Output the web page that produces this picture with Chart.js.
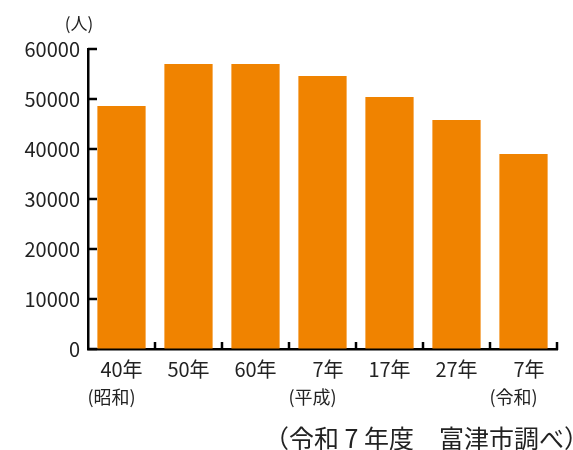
<!DOCTYPE html>
<html>
<head>
<meta charset="utf-8">
<script src="https://cdn.jsdelivr.net/npm/chart.js@4"></script>
<style>
  html, body { margin: 0; padding: 0; background: #fff; }
  #wrap { width: 573px; height: 450px; position: relative; }
</style>
</head>
<body>
<div id="wrap"><canvas id="myBarChart" width="573" height="450"></canvas></div>
<script>
// data
var years = ['40年', '50年', '60年', '\u20077年', '17年', '27年', '\u20077年'];
var eras = ['(昭和)', '', '', '(平成)', '', '', '(令和)'];
var population = [48600, 57000, 57000, 54600, 50400, 45800, 39000];
var yTicks = [0, 10000, 20000, 30000, 40000, 50000, 60000];

var FONT = '"Noto Sans CJK JP", "Noto Sans", sans-serif';

// extra text and the short inward tick marks
var extras = {
    id: 'extras',
    afterDraw: function(chart) {
        var c = chart.ctx;
        var xs = chart.scales.x;
        var ys = chart.scales.y;
        var area = chart.chartArea;
        c.save();
        c.strokeStyle = '#000';
        c.lineWidth = 2.5;
        // y ticks, pointing inward
        yTicks.forEach(function(v) {
            var y = Math.round(ys.getPixelForValue(v));
            c.beginPath();
            c.moveTo(area.left, y);
            c.lineTo(area.left + 9, y);
            c.stroke();
        });
        // x ticks at category boundaries, pointing up
        var half = (xs.getPixelForValue(1) - xs.getPixelForValue(0)) / 2;
        for (var i = 0; i < years.length; i++) {
            var x = Math.round(xs.getPixelForValue(i) + half);
            c.beginPath();
            c.moveTo(x, area.bottom + 1);
            c.lineTo(x, area.bottom - 7);
            c.stroke();
        }
        c.fillStyle = '#222';
        c.textAlign = 'center';
        c.textBaseline = 'middle';
        c.font = '18px ' + FONT;
        eras.forEach(function(e, i) {
            if (e) c.fillText(e, xs.getPixelForValue(i) - 10, 397);
        });
        c.font = '17px ' + FONT;
        c.fillText('(人)', 79, 24);
        c.textAlign = 'right';
        c.font = '25px ' + FONT;
        c.fillText('（令和 7 年度　富津市調べ）', 589, 438);
        c.restore();
    }
};

var ctx_bar = document.getElementById('myBarChart').getContext('2d');
var chart_bar = new Chart(ctx_bar, {
    type: 'bar',
    data: {
        labels: years,
        datasets: [{
            data: population,
            backgroundColor: '#F08300',
            borderWidth: 0,
            barPercentage: 0.72,
            categoryPercentage: 1.0
        }]
    },
    options: {
        responsive: false,
        animation: false,
        layout: { padding: { top: 49, right: 16, left: 0, bottom: 0 } },
        plugins: {
            legend: { display: false },
            tooltip: { enabled: false }
        },
        scales: {
            x: {
                offset: true,
                grid: { display: true, drawOnChartArea: false, drawTicks: false, color: 'rgba(0,0,0,0)' },
                border: { display: true, color: '#000', width: 2.5 },
                ticks: { color: '#222', font: { family: FONT, size: 20 }, padding: 8, maxRotation: 0, autoSkip: false },
                afterFit: function(scale) { scale.height = 101; }
            },
            y: {
                min: 0,
                max: 60000,
                grid: { display: true, drawOnChartArea: false, drawTicks: false, color: 'rgba(0,0,0,0)' },
                border: { display: true, color: '#000', width: 2.5 },
                ticks: {
                    stepSize: 10000, color: '#222', font: { family: FONT, size: 20 }, padding: 8,
                    callback: function(v) { return String(v); }
                },
                afterFit: function(scale) { scale.width = 88; }
            }
        }
    },
    plugins: [extras]
});
</script>
</body>
</html>
